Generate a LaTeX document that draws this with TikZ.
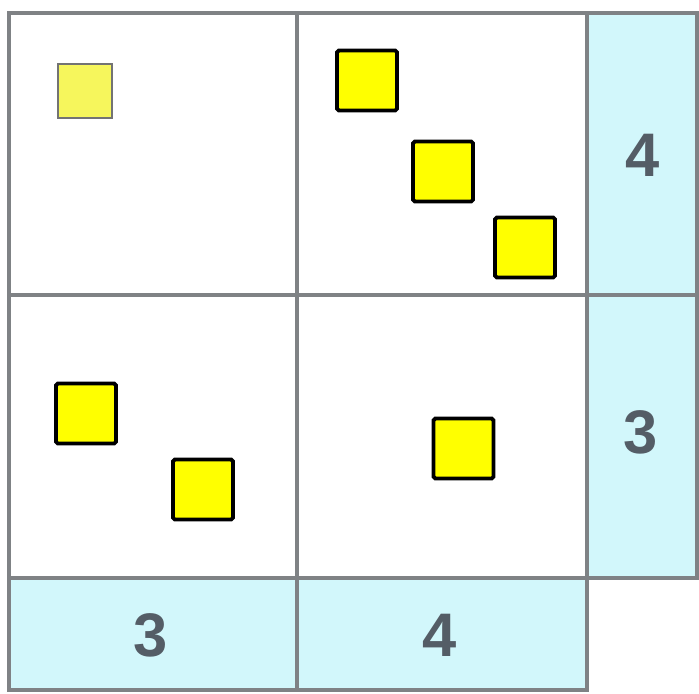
\documentclass[tikz,border=0pt]{standalone}
\usepackage{fontspec}
\setsansfont{Liberation Sans}
\usetikzlibrary{positioning}
\definecolor{clueblue}{HTML}{D2F7FB}
\definecolor{gridgray}{HTML}{7F8285}
\definecolor{tileyellow}{HTML}{FFFF00}
\definecolor{fadeyellow}{HTML}{F6F65C}
\definecolor{digitgray}{HTML}{545D66}

\begin{document}
\begin{tikzpicture}[x=0.02cm, y=-0.02cm,
  tile/.style={draw=black, fill=tileyellow, line width=2.2pt, minimum size=1.2cm, inner sep=0pt, rounded corners=1pt},
  fadetile/.style={draw=black!55, fill=fadeyellow, line width=1.6pt, minimum size=1.08cm, inner sep=0pt},
  clue/.style={text=digitgray, font=\sffamily\bfseries\fontsize{35}{35}\selectfont, inner sep=0pt}]
  \useasboundingbox (0,0) rectangle (699,693);

  % Clue strips
  \fill[clueblue] (587,13) rectangle (697,578);
  \fill[clueblue] (9,578) rectangle (587,690);

  % Grid
  \draw[gridgray, line width=1.9pt] (9,13) rectangle (587,578);
  \draw[gridgray, line width=1.9pt] (297,13) -- (297,690);
  \draw[gridgray, line width=1.9pt] (9,295) -- (697,295);
  \draw[gridgray, line width=1.9pt] (587,13) -- (697,13) -- (697,578) -- (587,578);
  \draw[gridgray, line width=1.9pt] (9,578) -- (9,690) -- (587,690) -- (587,578);

  % Squares
  \node[fadetile] (f0) at (85,91) {};
  \node[tile] (t1) at (367,80.5) {};
  \node[tile] (t2) at (443,171.5) {};
  \node[tile] (t3) at (525,247.5) {};
  \node[tile] (t4) at (86,413.5) {};
  \node[tile] (t5) at (203,489.5) {};
  \node[tile] (t6) at (463.5,448.5) {};

  % Clue numbers
  \node[clue] (r1) at (643,155) {4};
  \node[clue] (r2) at (641,432) {3};
  \node[clue] (c1) at (151,635) {3};
  \node[clue] (c2) at (440,635) {4};
\end{tikzpicture}
\end{document}
